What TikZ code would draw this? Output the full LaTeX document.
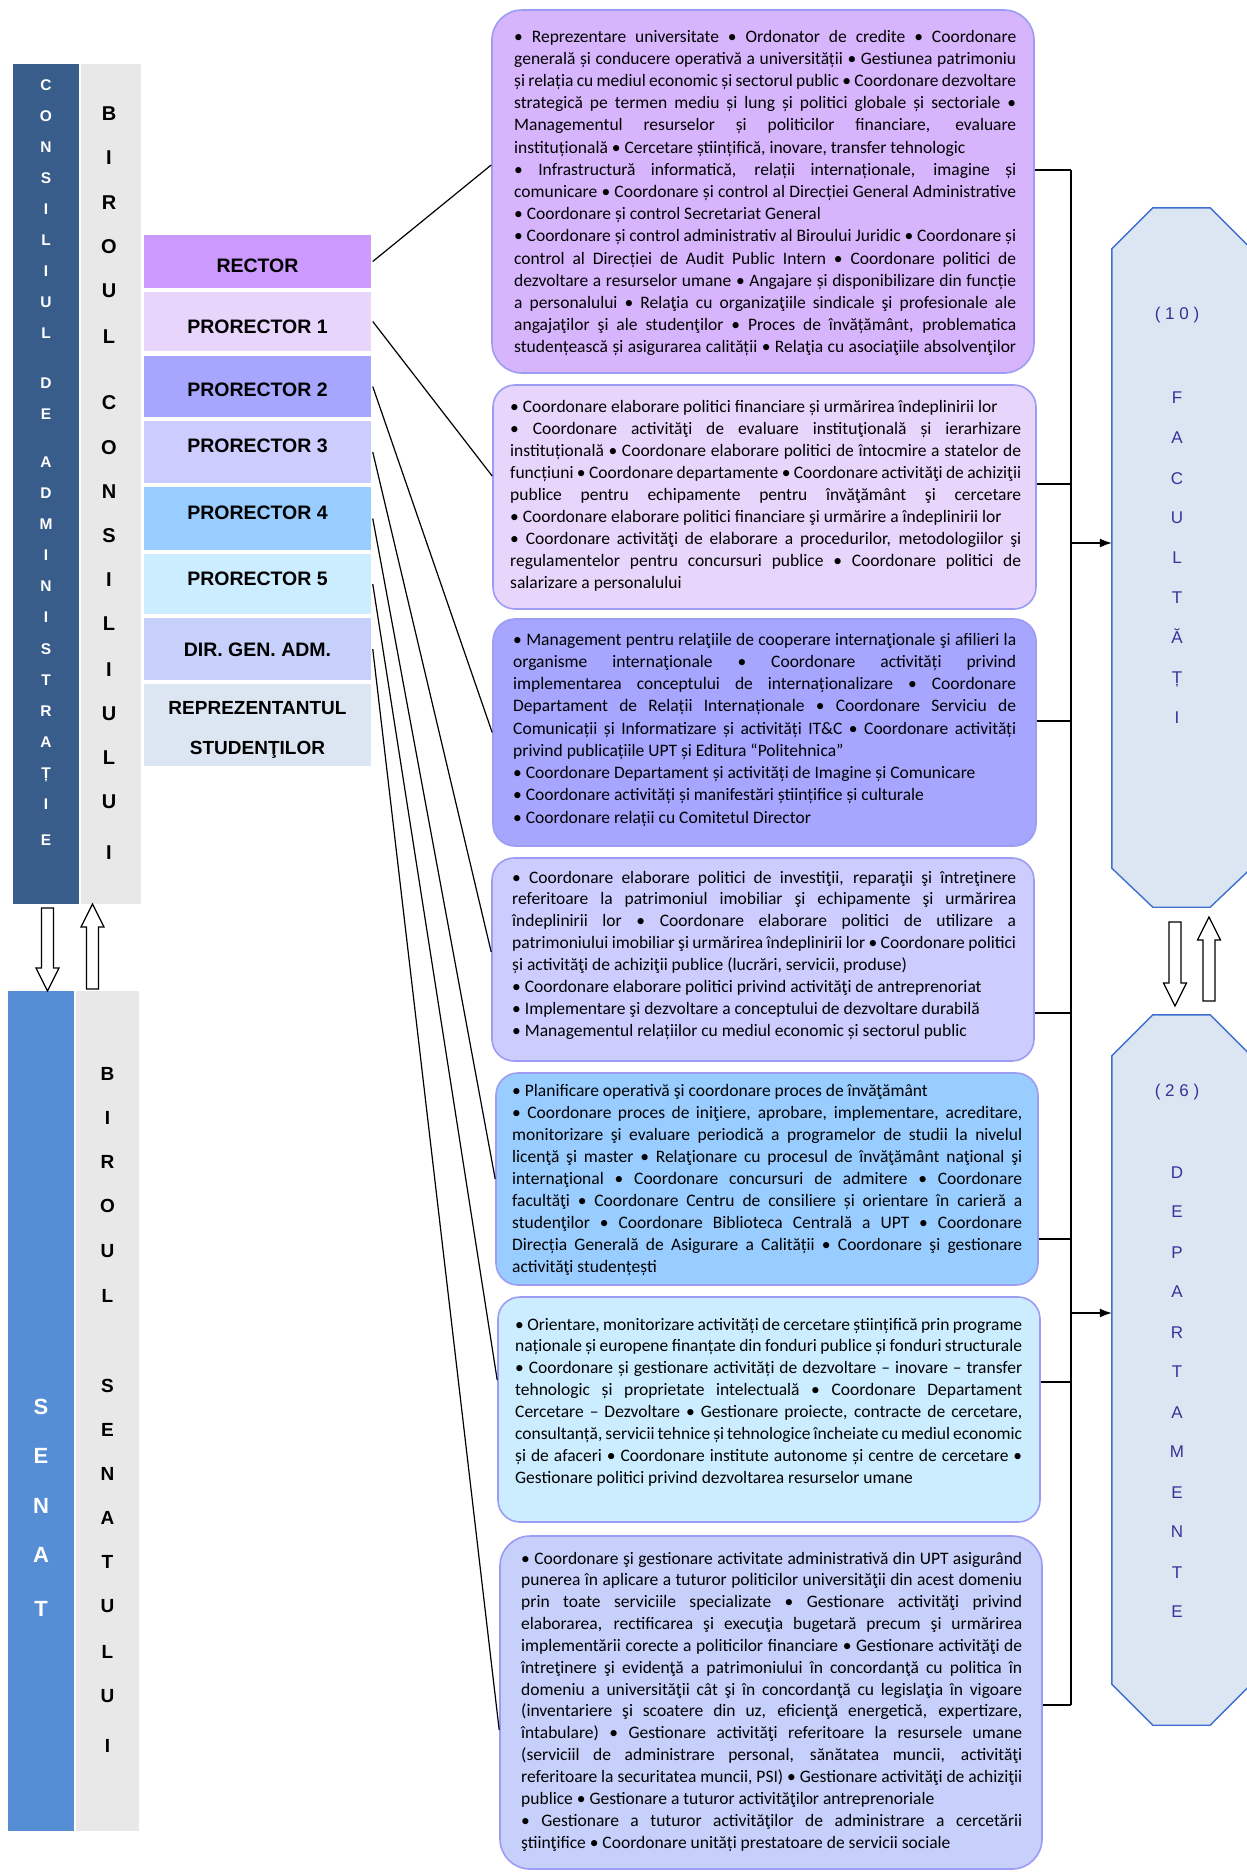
\documentclass[tikz,border=0pt]{standalone}
\usepackage{fontspec}
\setmainfont{Liberation Sans}
\newfontfamily\carlito{Carlito}
\usetikzlibrary{arrows.meta,calc}
\definecolor{conc}{HTML}{385D8A}
\definecolor{birou}{HTML}{E8E8E8}
\definecolor{senat}{HTML}{558ED5}
\definecolor{rectorc}{HTML}{CC99FF}
\definecolor{pIc}{HTML}{E8D5FC}
\definecolor{pIIc}{HTML}{A6A6FF}
\definecolor{pIIIc}{HTML}{CCCCFF}
\definecolor{pIVc}{HTML}{99CCFF}
\definecolor{pVc}{HTML}{CCECFF}
\definecolor{dirc}{HTML}{C6D0FA}
\definecolor{repc}{HTML}{DCE6F2}
\definecolor{bIc}{HTML}{D7B5FC}
\definecolor{boxline}{HTML}{9C9CF5}
\definecolor{octfill}{HTML}{DCE6F2}
\definecolor{octline}{HTML}{3C6FD0}
\definecolor{octtext}{HTML}{333399}
\newcommand\bstrut{\vrule height 15pt depth 7pt width 0pt}
\newcommand\JLine[1]{\hbox to\hsize{\bstrut#1}}
\newcommand\RLine[1]{\hbox to\hsize{\bstrut#1\hfil}}
\newcommand\tbox[3]{\vtop{\hsize=#1pt \baselineskip=#2pt \lineskiplimit=-50pt \lineskip=0pt #3}}
\newcommand\blockdown[3]{\draw[barrow] ({#1-6},#2) -- ({#1+6},#2) -- ({#1+6},{#3-23}) -- ({#1+11.5},{#3-23}) -- (#1,#3) -- ({#1-11.5},{#3-23}) -- ({#1-6},{#3-23}) -- cycle;}
\newcommand\blockup[3]{\draw[barrow] ({#1-6},#2) -- ({#1+6},#2) -- ({#1+6},{#3+23}) -- ({#1+11.5},{#3+23}) -- (#1,#3) -- ({#1-11.5},{#3+23}) -- ({#1-6},{#3+23}) -- cycle;}
\begin{document}
\begin{tikzpicture}[x=1pt,y=-1pt,
  lab/.style={rectangle, draw=white, line width=1.5pt, inner sep=0pt, minimum width=229pt, font=\bfseries\fontsize{19.5}{23}\selectfont, text height=14pt, text depth=0pt},
  labtxt/.style={inner sep=0pt, font=\bfseries\fontsize{19}{23}\selectfont, text height=13.6pt, text depth=0pt},
  bar/.style={rectangle, inner sep=0pt, minimum height=840pt},
  infobox/.style={rectangle, rounded corners=22pt, draw=boxline, line width=1.6pt, inner sep=0pt},
  txt/.style={anchor=base west, inner sep=0pt, font=\carlito\fontsize{17.5}{22}\selectfont},
  conn/.style={line width=1.2pt, black},
  bus/.style={line width=2.6pt, black},
  barrow/.style={draw=black, fill=white, line width=1.2pt},
  oct/.style={draw=octline, fill=octfill, line width=1.4pt},
  octbox/.style={rectangle, inner sep=0pt, minimum width=139pt},
  lcons/.style={text=white, inner sep=0pt, font=\bfseries\fontsize{15.5}{16}\selectfont, text height=11pt, text depth=0pt},
  lbc/.style={text=black, inner sep=0pt, font=\bfseries\fontsize{20}{20}\selectfont, text height=14.5pt, text depth=0pt},
  lsen/.style={text=white, inner sep=0pt, font=\bfseries\fontsize{22}{22}\selectfont, text height=16pt, text depth=0pt},
  lbs/.style={text=black, inner sep=0pt, font=\bfseries\fontsize{19}{19}\selectfont, text height=13.5pt, text depth=0pt},
  loct/.style={text=octtext, inner sep=0pt, font=\fontsize{17}{17}\selectfont, text height=12pt, text depth=0pt},
  arr/.style={conn, -{Latex[length=12pt,width=9pt]}}
]
\useasboundingbox (0,0) rectangle (1247,1872);
\clip (0,0) rectangle (1247,1872);
\fill[white] (0,0) rectangle (1247,1872);

% ---- left bars
\node[bar, fill=conc, minimum width=66pt] (cons) at (46,484) {};
\node[bar, fill=birou, minimum width=60pt] (bcons) at (111,484) {};
\node[bar, fill=senat, minimum width=66pt] (sen) at (41,1411) {};
\node[bar, fill=birou, minimum width=63pt] (bsen) at (107.5,1411) {};

\foreach \l/\y [count=\i] in {C/85,O/116,N/147,S/178,I/209,L/240,I/271,U/302,L/333,D/383,E/414,A/462,D/493,M/524,I/555,N/586,I/617,S/649,T/680,R/711,A/742,Ț/773,I/804,E/840}
  \node[lcons] (ca\i) at (46,\y) {\l};
\foreach \l/\y [count=\i] in {B/113,I/157,R/202,O/246,U/290,L/336,C/402,O/447,N/491,S/535,I/579,L/623,I/669,U/713,L/757,U/801,I/852}
  \node[lbc] (bc\i) at (109,\y) {\l};
\foreach \l/\y [count=\i] in {S/1406,E/1455,N/1505,A/1554,T/1608}
  \node[lsen] (se\i) at (41,\y) {\l};
\foreach \l/\y [count=\i] in {B/1074,I/1118,R/1162,O/1206,U/1251,L/1296,S/1386,E/1430,N/1474,A/1518,T/1562,U/1606,L/1652,U/1696,I/1746}
  \node[lbs] (bs\i) at (107.5,\y) {\l};

\blockdown{47.5}{908}{991}
\blockup{92.5}{989}{904}

% ---- label boxes
\node[lab, fill=rectorc, minimum height=55pt, text height=21.4pt] (rector) at (257.5,261.5) {RECTOR};
\node[lab, fill=pIc, minimum height=61pt, text height=23pt] (p1) at (257.5,321.5) {PRORECTOR 1};
\node[lab, fill=pIIc, minimum height=63pt, text height=19.8pt] (p2) at (257.5,386.5) {PRORECTOR 2};
\node[lab, fill=pIIIc, minimum height=64pt, text depth=13pt] (p3) at (257.5,452) {PRORECTOR 3};
\node[lab, fill=pIVc, minimum height=65pt, text depth=12.2pt] (p4) at (257.5,518.5) {PRORECTOR 4};
\node[lab, fill=pVc, minimum height=62pt, text depth=12pt] (p5) at (257.5,584) {PRORECTOR 5};
\node[lab, fill=dirc, minimum height=64pt, text height=15.6pt] (dir) at (257.5,649) {DIR. GEN. ADM.};
\node[lab, fill=repc, minimum height=84pt] (rep) at (257.5,725) {};
\node[labtxt] (rep1) at (257.5,707.5) {REPREZENTANTUL};
\node[labtxt] (rep2) at (257.5,748) {STUDENŢILOR};

% ---- info boxes
\node[infobox, rounded corners=30pt, fill=bIc, minimum width=542pt, minimum height=363pt] (b1) at (763,191.5) {};
\node[infobox, fill=pIc, minimum width=543pt, minimum height=224pt] (b2) at (764.5,497) {};
\node[infobox, fill=pIIc, minimum width=543pt, minimum height=227pt] (b3) at (764.5,732.5) {};
\node[infobox, fill=pIIIc, minimum width=542pt, minimum height=203pt] (b4) at (763,959.5) {};
\node[infobox, fill=pIVc, minimum width=542pt, minimum height=212pt] (b5) at (767,1179) {};
\node[infobox, fill=pVc, minimum width=542pt, minimum height=225pt] (b6) at (769,1409.5) {};
\node[infobox, rounded corners=30pt, fill=dirc, minimum width=542pt, minimum height=333pt] (b7) at (771,1702.5) {};

\node[txt] (t1) at (514,42) {\tbox{502}{22.2}{%
\JLine{• Reprezentare universitate • Ordonator de credite • Coordonare}
\JLine{generală și conducere operativă a universității • Gestiunea patrimoniu}
\JLine{și relația cu mediul economic și sectorul public • Coordonare dezvoltare}
\JLine{strategică pe termen mediu și lung și politici globale și sectoriale •}
\JLine{Managementul resurselor și politicilor financiare, evaluare}
\RLine{instituțională • Cercetare științifică, inovare, transfer tehnologic}
\JLine{• Infrastructură informatică, relații internaționale, imagine și}
\JLine{comunicare • Coordonare și control al Direcției General Administrative}
\RLine{• Coordonare și control Secretariat General}
\JLine{• Coordonare și control administrativ al Biroului Juridic • Coordonare și}
\JLine{control al Direcției de Audit Public Intern • Coordonare politici de}
\JLine{dezvoltare a resurselor umane • Angajare și disponibilizare din funcție}
\JLine{a personalului • Relaţia cu organizaţiile sindicale şi profesionale ale}
\JLine{angajaţilor şi ale studenţilor • Proces de învățământ, problematica}
\JLine{studențească și asigurarea calității • Relaţia cu asociaţiile absolvenţilor}}};

\node[txt] (t2) at (510,412) {\tbox{511}{22.1}{%
\RLine{• Coordonare elaborare politici financiare și urmărirea îndeplinirii lor}
\JLine{• Coordonare activităţi de evaluare instituţională și ierarhizare}
\JLine{instituțională • Coordonare elaborare politici de întocmire a statelor de}
\JLine{funcțiuni • Coordonare departamente • Coordonare activităţi de achiziţii}
\JLine{publice pentru echipamente pentru învăţământ şi cercetare}
\RLine{• Coordonare elaborare politici financiare şi urmărire a îndeplinirii lor}
\JLine{• Coordonare activităţi de elaborare a procedurilor, metodologiilor şi}
\JLine{regulamentelor pentru concursuri publice • Coordonare politici de}
\RLine{salarizare a personalului}}};

\node[txt] (t3) at (513,645) {\tbox{503}{22.25}{%
\JLine{• Management pentru relaţiile de cooperare internaţionale şi afilieri la}
\JLine{organisme internaţionale • Coordonare activități privind}
\JLine{implementarea conceptului de internaționalizare • Coordonare}
\JLine{Departament de Relații Internaționale • Coordonare Serviciu de}
\JLine{Comunicații și Informatizare și activități IT\&C • Coordonare activități}
\RLine{privind publicațiile UPT și Editura “Politehnica”}
\RLine{• Coordonare Departament și activități de Imagine și Comunicare}
\RLine{• Coordonare activități și manifestări științifice și culturale}
\RLine{• Coordonare relații cu Comitetul Director}}};

\node[txt] (t4) at (512,883) {\tbox{504}{21.9}{%
\JLine{• Coordonare elaborare politici de investiţii, reparaţii şi întreţinere}
\JLine{referitoare la patrimoniul imobiliar şi echipamente şi urmărirea}
\JLine{îndeplinirii lor • Coordonare elaborare politici de utilizare a}
\JLine{patrimoniului imobiliar şi urmărirea îndeplinirii lor • Coordonare politici}
\RLine{și activităţi de achiziţii publice (lucrări, servicii, produse)}
\RLine{• Coordonare elaborare politici privind activităţi de antreprenoriat}
\RLine{• Implementare şi dezvoltare a conceptului de dezvoltare durabilă}
\RLine{• Managementul relațiilor cu mediul economic și sectorul public}}};

\node[txt] (t5) at (512,1096) {\tbox{510}{22}{%
\RLine{• Planificare operativă şi coordonare proces de învăţământ}
\JLine{• Coordonare proces de iniţiere, aprobare, implementare, acreditare,}
\JLine{monitorizare şi evaluare periodică a programelor de studii la nivelul}
\JLine{licenţă şi master • Relaţionare cu procesul de învăţământ naţional şi}
\JLine{internaţional • Coordonare concursuri de admitere • Coordonare}
\JLine{facultăţi • Coordonare Centru de consiliere și orientare în carieră a}
\JLine{studenţilor • Coordonare Biblioteca Centrală a UPT • Coordonare}
\JLine{Direcția Generală de Asigurare a Calității • Coordonare şi gestionare}
\RLine{activităţi studențești}}};

\node[txt] (t6) at (515,1330) {\tbox{507}{21.9}{%
\JLine{• Orientare, monitorizare activități de cercetare științifică prin programe}
\JLine{naționale și europene finanțate din fonduri publice și fonduri structurale}
\JLine{• Coordonare și gestionare activități de dezvoltare – inovare – transfer}
\JLine{tehnologic și proprietate intelectuală • Coordonare Departament}
\JLine{Cercetare – Dezvoltare • Gestionare proiecte, contracte de cercetare,}
\JLine{consultanță, servicii tehnice și tehnologice încheiate cu mediul economic}
\JLine{și de afaceri • Coordonare institute autonome și centre de cercetare •}
\RLine{Gestionare politici privind dezvoltarea resurselor umane}}};

\node[txt] (t7) at (521,1564) {\tbox{501}{21.85}{%
\JLine{• Coordonare şi gestionare activitate administrativă din UPT asigurând}
\JLine{punerea în aplicare a tuturor politicilor universităţii din acest domeniu}
\JLine{prin toate serviciile specializate • Gestionare activităţi privind}
\JLine{elaborarea, rectificarea şi execuţia bugetară precum şi urmărirea}
\JLine{implementării corecte a politicilor financiare • Gestionare activităţi de}
\JLine{întreţinere şi evidenţă a patrimoniului în concordanţă cu politica în}
\JLine{domeniu a universităţii cât şi în concordanţă cu legislaţia în vigoare}
\JLine{(inventariere şi scoatere din uz, eficienţă energetică, expertizare,}
\JLine{întabulare) • Gestionare activităţi referitoare la resursele umane}
\JLine{(serviciil de administrare personal, sănătatea muncii, activităţi}
\JLine{referitoare la securitatea muncii, PSI) • Gestionare activităţi de achiziţii}
\RLine{publice • Gestionare a tuturor activităţilor antreprenoriale}
\JLine{• Gestionare a tuturor activităţilor de administrare a cercetării}
\RLine{ştiinţifice • Coordonare unități prestatoare de servicii sociale}}};

% ---- label -> box lines
\draw[conn] (rector.east) -- ([yshift=26.5]b1.west);
\draw[conn] (p1.east) -- ([yshift=21]b2.west);
\draw[conn] (p2.east) -- (b3.west);
\draw[conn] (p3.east) -- ([yshift=7.5]b4.west);
\draw[conn] (p4.east) -- (b5.west);
\draw[conn] (p5.east) -- ([yshift=29.5]b6.west);
\draw[conn] (dir.east) -- ([yshift=-27.5]b7.west);

% ---- bus
\coordinate (bt) at (1071,170);
\coordinate (bb) at (1071,1705);
\coordinate (h2) at (1071,484);
\coordinate (h3) at (1071,721);
\coordinate (h4) at (1071,1013);
\coordinate (h5) at (1071,1239);
\coordinate (h6) at (1071,1382);
\draw[bus] (bt) -- (bb);
\draw[conn] (bt -| b1.east) -- (bt);
\draw[conn] (h2 -| b2.east) -- (h2);
\draw[conn] (h3 -| b3.east) -- (h3);
\draw[conn] (h4 -| b4.east) -- (h4);
\draw[conn] (h5 -| b5.east) -- (h5);
\draw[conn] (h6 -| b6.east) -- (h6);
\draw[conn] (bb -| b7.east) -- (bb);

% ---- octagons
\node[octbox, minimum height=699pt] (fac) at (1181.5,557.5) {};
\node[octbox, minimum height=710pt] (dep) at (1181.5,1370) {};
\draw[oct] ([xshift=41]fac.north west) -- ([xshift=-41]fac.north east) -- ([yshift=-41]fac.north east) -- ([yshift=39]fac.south east) -- ([xshift=-41]fac.south east) -- ([xshift=41]fac.south west) -- ([yshift=39]fac.south west) -- ([yshift=-41]fac.north west) -- cycle;
\draw[oct] ([xshift=41]dep.north west) -- ([xshift=-41]dep.north east) -- ([yshift=-41]dep.north east) -- ([yshift=41]dep.south east) -- ([xshift=-41]dep.south east) -- ([xshift=41]dep.south west) -- ([yshift=41]dep.south west) -- ([yshift=-41]dep.north west) -- cycle;
\node[loct] (fn) at (1177,313) {( 1 0 )};
\foreach \l/\y [count=\i] in {F/397,A/437,C/478,U/517,L/557,T/597,Ă/637,Ț/677,I/717}
  \node[loct] (fl\i) at (1177,\y) {\l};
\node[loct] (dn) at (1177,1090) {( 2 6 )};
\foreach \l/\y [count=\i] in {D/1172,E/1211,P/1252,A/1291,R/1332,T/1371,A/1412,M/1451,E/1492,N/1531,T/1572,E/1611}
  \node[loct] (dl\i) at (1177,\y) {\l};

\coordinate (fa) at (1071,543);
\coordinate (da) at (1071,1313);
\draw[arr] (fa) -- (fa -| fac.west);
\draw[arr] (da) -- (da -| dep.west);

\blockdown{1175}{922}{1006}
\blockup{1209}{1001}{917}
\end{tikzpicture}
\end{document}
